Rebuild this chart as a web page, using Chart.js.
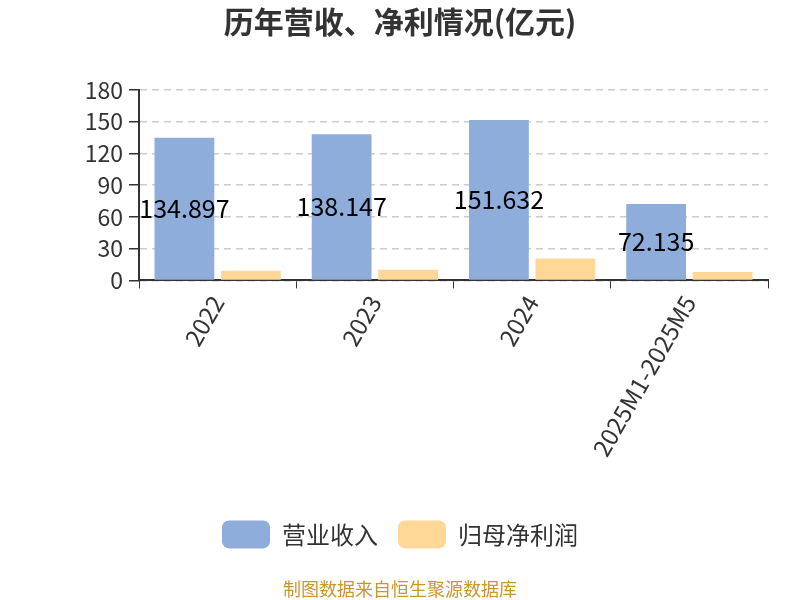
<!DOCTYPE html>
<html>
<head>
<meta charset="utf-8">
<script src="https://cdn.jsdelivr.net/npm/chart.js@4"></script>
<style>
html,body{margin:0;padding:0;background:#fff;}
#wrap{width:800px;height:600px;position:relative;}
</style>
</head>
<body>
<div id="wrap"><canvas id="c" width="800" height="600"></canvas></div>
<script>
const categories = ['2022', '2023', '2024', '2025M1-2025M5'];
const revenue = [134.897, 138.147, 151.632, 72.135];
const netProfit = [9.1, 10.1, 20.7, 7.9];
const yTicks = [0, 30, 60, 90, 120, 150, 180];
const seriesNames = ['营业收入', '归母净利润'];
const titleText = '历年营收、净利情况(亿元)';
const sourceText = '制图数据来自恒生聚源数据库';

const FONT = "'Noto Sans CJK SC', 'Noto Sans', sans-serif";

const barLabels = {
  id: 'barLabels',
  afterDatasetsDraw(chart) {
    const ctx = chart.ctx;
    const meta = chart.getDatasetMeta(0);
    ctx.save();
    ctx.font = '25px ' + FONT;
    ctx.fillStyle = '#000';
    ctx.textAlign = 'center';
    ctx.textBaseline = 'middle';
    meta.data.forEach((bar, i) => {
      const y = (bar.y + bar.base) / 2;
      ctx.fillText(String(revenue[i]), bar.x, y);
    });
    ctx.restore();
  }
};

new Chart(document.getElementById('c'), {
  type: 'bar',
  data: {
    labels: categories,
    datasets: [
      { label: seriesNames[0], data: revenue, backgroundColor: '#8eaddb',
        categoryPercentage: 0.845, barPercentage: 0.9 },
      { label: seriesNames[1], data: netProfit, backgroundColor: '#ffd898',
        categoryPercentage: 0.845, barPercentage: 0.9 }
    ]
  },
  options: {
    responsive: false,
    animation: false,
    layout: { padding: { left: 32, right: 32, top: 0, bottom: 0 } },
    plugins: {
      title: {
        display: true, text: titleText,
        color: '#333', font: { family: FONT, size: 30, weight: 'bold' },
        padding: { top: 4, bottom: 50 }
      },
      subtitle: {
        display: true, text: sourceText, position: 'bottom',
        color: '#c9962e', font: { family: FONT, size: 18 },
        padding: { top: 20, bottom: 0 }
      },
      legend: {
        position: 'bottom',
        labels: {
          color: '#333', font: { family: FONT, size: 24 },
          boxWidth: 48, boxHeight: 28, useBorderRadius: true, borderRadius: 7,
          padding: 20
        }
      },
      tooltip: { enabled: false }
    },
    scales: {
      x: {
        grid: { display: true, drawOnChartArea: false, drawTicks: true, tickLength: 8, tickColor: '#333', offset: true },
        border: { display: true, color: '#333', width: 2 },
        ticks: { color: '#333', font: { family: FONT, size: 24 }, minRotation: 60, maxRotation: 60, padding: 2 },
        afterFit(axis) { axis.height = 220; }
      },
      y: {
        min: 0, max: 180,
        afterBuildTicks(axis) { axis.ticks = yTicks.map(v => ({ value: v })); },
        grid: { color: '#ccc', lineWidth: 1.5, drawTicks: true, tickLength: 10, tickColor: '#333', tickBorderDash: [] },
        border: { display: true, color: '#333', width: 2, dash: [7, 5] },
        ticks: { color: '#333', font: { family: FONT, size: 23 }, padding: 6 },
        afterFit(axis) { axis.width = 107; }
      }
    }
  },
  plugins: [barLabels]
});
</script>
</body>
</html>
